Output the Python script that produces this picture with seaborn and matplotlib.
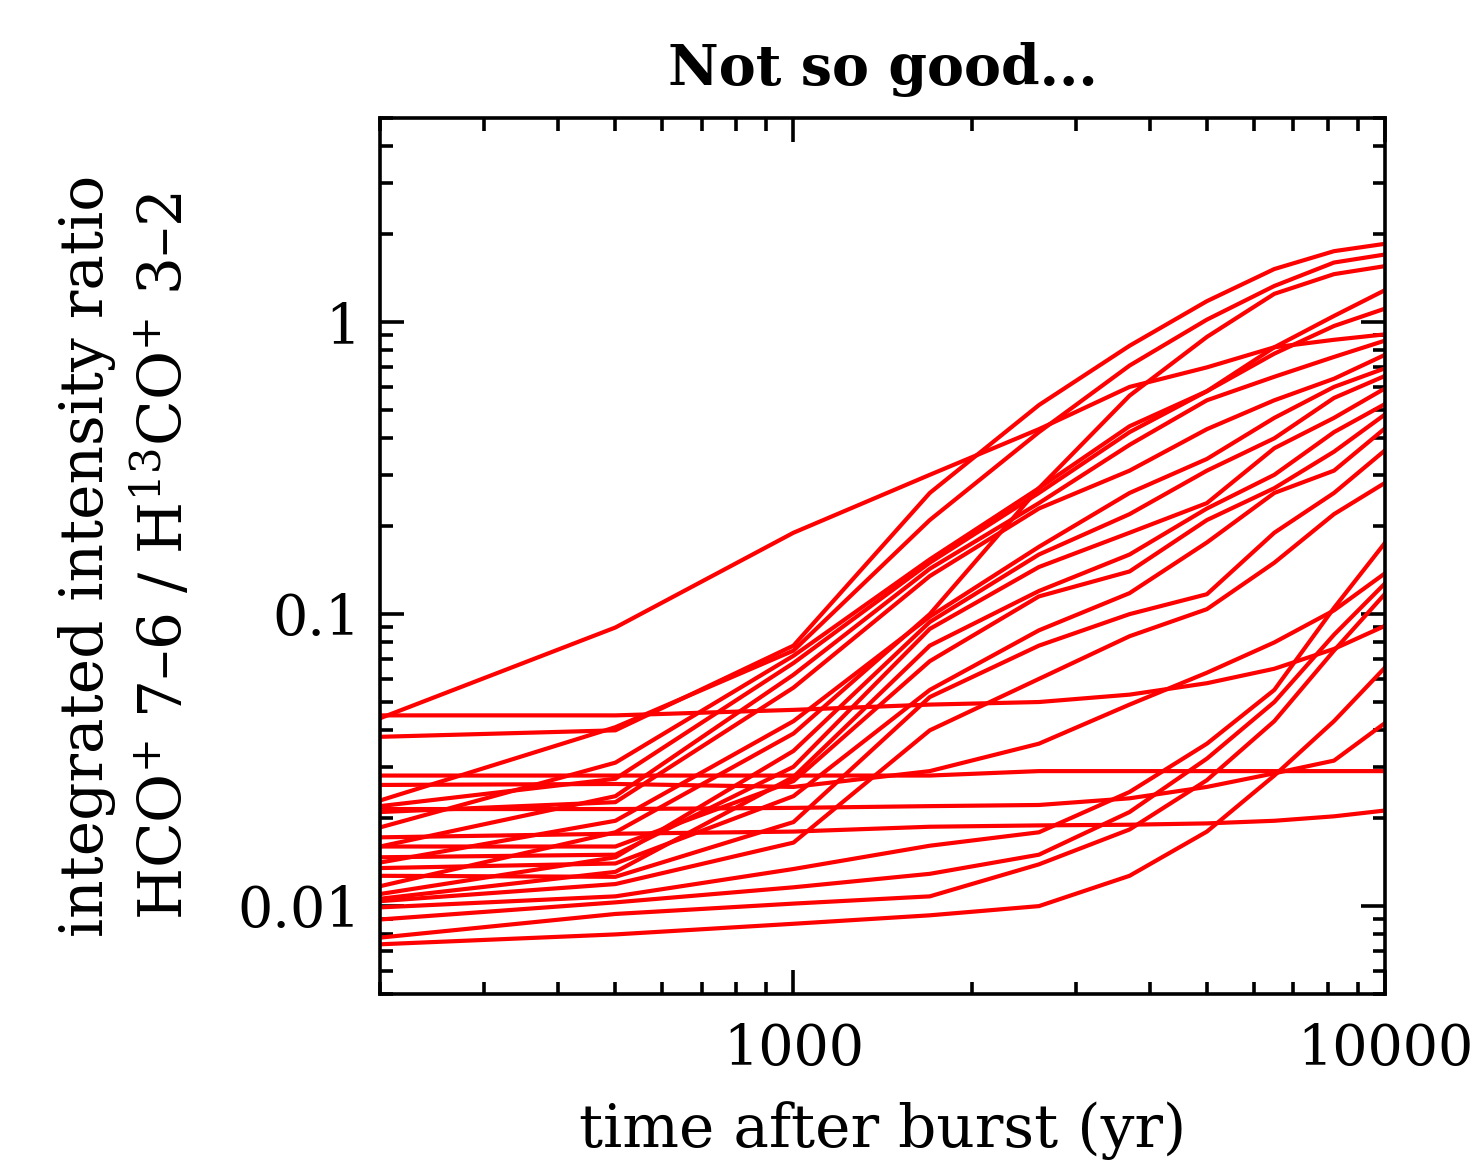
import numpy as np
import pandas as pd
import seaborn as sns
import matplotlib
matplotlib.use("Agg")
import matplotlib.pyplot as plt
from matplotlib.ticker import FixedLocator, FixedFormatter, LogLocator, NullFormatter

# model times (yr after burst)
time_yr = [200, 500, 1000, 1700, 2600, 3700, 5000, 6500, 8200, 10100]

# HCO+ 7-6 / H13CO+ 3-2 ratio for each model track
line_a  = [0.044, 0.090, 0.19, 0.30, 0.43, 0.60, 0.70, 0.82, 0.87, 0.91]
line_t1 = [0.038, 0.040, 0.078, 0.26, 0.52, 0.83, 1.18, 1.52, 1.75, 1.86]
line_t2 = [0.023, 0.041, 0.075, 0.21, 0.42, 0.71, 1.02, 1.33, 1.60, 1.71]
line_t3 = [0.0117, 0.0179, 0.039, 0.100, 0.27, 0.56, 0.89, 1.25, 1.46, 1.56]
line_m1 = [0.0186, 0.031, 0.072, 0.154, 0.27, 0.44, 0.58, 0.82, 1.05, 1.30]
line_m2 = [0.022, 0.0273, 0.068, 0.150, 0.26, 0.42, 0.58, 0.78, 0.97, 1.12]
line_m3 = [0.016, 0.0238, 0.062, 0.143, 0.24, 0.38, 0.54, 0.65, 0.76, 0.87]
line_m4 = [0.021, 0.0227, 0.056, 0.135, 0.23, 0.31, 0.43, 0.54, 0.64, 0.78]
line_m5 = [0.0141, 0.0196, 0.043, 0.098, 0.17, 0.26, 0.34, 0.47, 0.60, 0.70]
line_m6 = [0.0110, 0.0147, 0.034, 0.094, 0.16, 0.22, 0.31, 0.40, 0.55, 0.66]
line_m7 = [0.0147, 0.0150, 0.030, 0.089, 0.145, 0.19, 0.24, 0.37, 0.47, 0.60]
line_m8 = [0.0106, 0.0131, 0.0277, 0.078, 0.12, 0.16, 0.23, 0.30, 0.42, 0.53]
line_m9 = [0.0160, 0.0160, 0.0268, 0.069, 0.115, 0.14, 0.21, 0.27, 0.36, 0.49]
line_m10 = [0.0135, 0.0140, 0.0238, 0.055, 0.088, 0.118, 0.176, 0.26, 0.31, 0.44]
line_m11 = [0.0127, 0.0126, 0.0194, 0.052, 0.078, 0.10, 0.117, 0.19, 0.26, 0.37]
line_m12 = [0.0104, 0.0119, 0.0165, 0.040, 0.060, 0.084, 0.104, 0.15, 0.22, 0.285]
line_m0 = [0.026, 0.0262, 0.0256, 0.029, 0.036, 0.049, 0.063, 0.080, 0.103, 0.14]
line_f1 = [0.045, 0.045, 0.047, 0.049, 0.050, 0.053, 0.058, 0.065, 0.076, 0.092]
line_f2 = [0.028, 0.028, 0.028, 0.028, 0.029, 0.029, 0.029, 0.029, 0.029, 0.029]
line_f3 = [0.0172, 0.0177, 0.0180, 0.0187, 0.0189, 0.0190, 0.0192, 0.0196, 0.0203, 0.0213]
line_f4 = [0.0215, 0.0215, 0.0217, 0.0220, 0.0222, 0.0234, 0.0256, 0.0285, 0.0315, 0.043]
line_b1 = [0.0074, 0.0080, 0.0087, 0.0093, 0.0100, 0.0127, 0.018, 0.028, 0.043, 0.067]
line_b2 = [0.0078, 0.0094, 0.0102, 0.0108, 0.0139, 0.0183, 0.027, 0.043, 0.075, 0.12]
line_b3 = [0.0090, 0.0103, 0.0116, 0.0129, 0.0150, 0.021, 0.032, 0.050, 0.085, 0.13]
line_b4 = [0.0099, 0.0108, 0.0134, 0.0161, 0.0179, 0.0246, 0.036, 0.055, 0.105, 0.18]

tracks = {
    "a": line_a, "t1": line_t1, "t2": line_t2, "t3": line_t3,
    "m1": line_m1, "m2": line_m2, "m3": line_m3, "m4": line_m4,
    "m5": line_m5, "m6": line_m6, "m7": line_m7, "m8": line_m8,
    "m9": line_m9, "m10": line_m10, "m11": line_m11, "m12": line_m12,
    "m0": line_m0, "f1": line_f1, "f2": line_f2, "f3": line_f3, "f4": line_f4,
    "b1": line_b1, "b2": line_b2, "b3": line_b3, "b4": line_b4,
}

frames = []
for name, vals in tracks.items():
    frames.append(pd.DataFrame({"time": time_yr, "ratio": vals, "model": name}))
df = pd.concat(frames, ignore_index=True)

sns.set_style("ticks")
plt.rcParams["font.family"] = ["DejaVu Serif"]
plt.rcParams["mathtext.fontset"] = "dejavuserif"
plt.rcParams["text.color"] = "black"
plt.rcParams["axes.labelcolor"] = "black"

fig = plt.figure(figsize=(14.77, 11.63), dpi=100)
ax = fig.add_axes([0.2573, 0.1453, 0.6804, 0.7532])

sns.lineplot(data=df, x="time", y="ratio", units="model", estimator=None,
             color="red", lw=3.0, ax=ax, legend=False)

ax.set_xscale("log")
ax.set_yscale("log")
ax.set_xlim(200, 10000)
ax.set_ylim(0.005, 5)

ax.xaxis.set_major_locator(FixedLocator([1000, 10000]))
ax.xaxis.set_major_formatter(FixedFormatter(["1000", "10000"]))
ax.xaxis.set_minor_locator(LogLocator(base=10, subs=np.arange(2, 10)))
ax.xaxis.set_minor_formatter(NullFormatter())
ax.yaxis.set_major_locator(FixedLocator([0.01, 0.1, 1]))
ax.yaxis.set_major_formatter(FixedFormatter(["0.01", "0.1", "1"]))
ax.yaxis.set_minor_locator(LogLocator(base=10, subs=np.arange(2, 10)))
ax.yaxis.set_minor_formatter(NullFormatter())

ax.tick_params(which="both", direction="in", top=True, right=True, width=2.6, colors="black")
ax.tick_params(which="major", length=17, labelsize=40)
ax.tick_params(which="minor", length=9)
ax.tick_params(axis="x", which="major", pad=20)
ax.tick_params(axis="y", which="major", pad=14)
for sp in ax.spines.values():
    sp.set_linewidth(2.6)
    sp.set_color("black")

ax.set_xlabel("time after burst (yr)", fontsize=43, labelpad=18)
ax.set_ylabel("integrated intensity ratio\nHCO$^{+}$ 7–6 / H$^{13}$CO$^{+}$ 3–2",
              fontsize=43, linespacing=1.3, labelpad=30)
ax.set_title("Not so good...", fontsize=40, fontweight="bold", pad=24)

fig.savefig("out.png", dpi=100, facecolor="white")
